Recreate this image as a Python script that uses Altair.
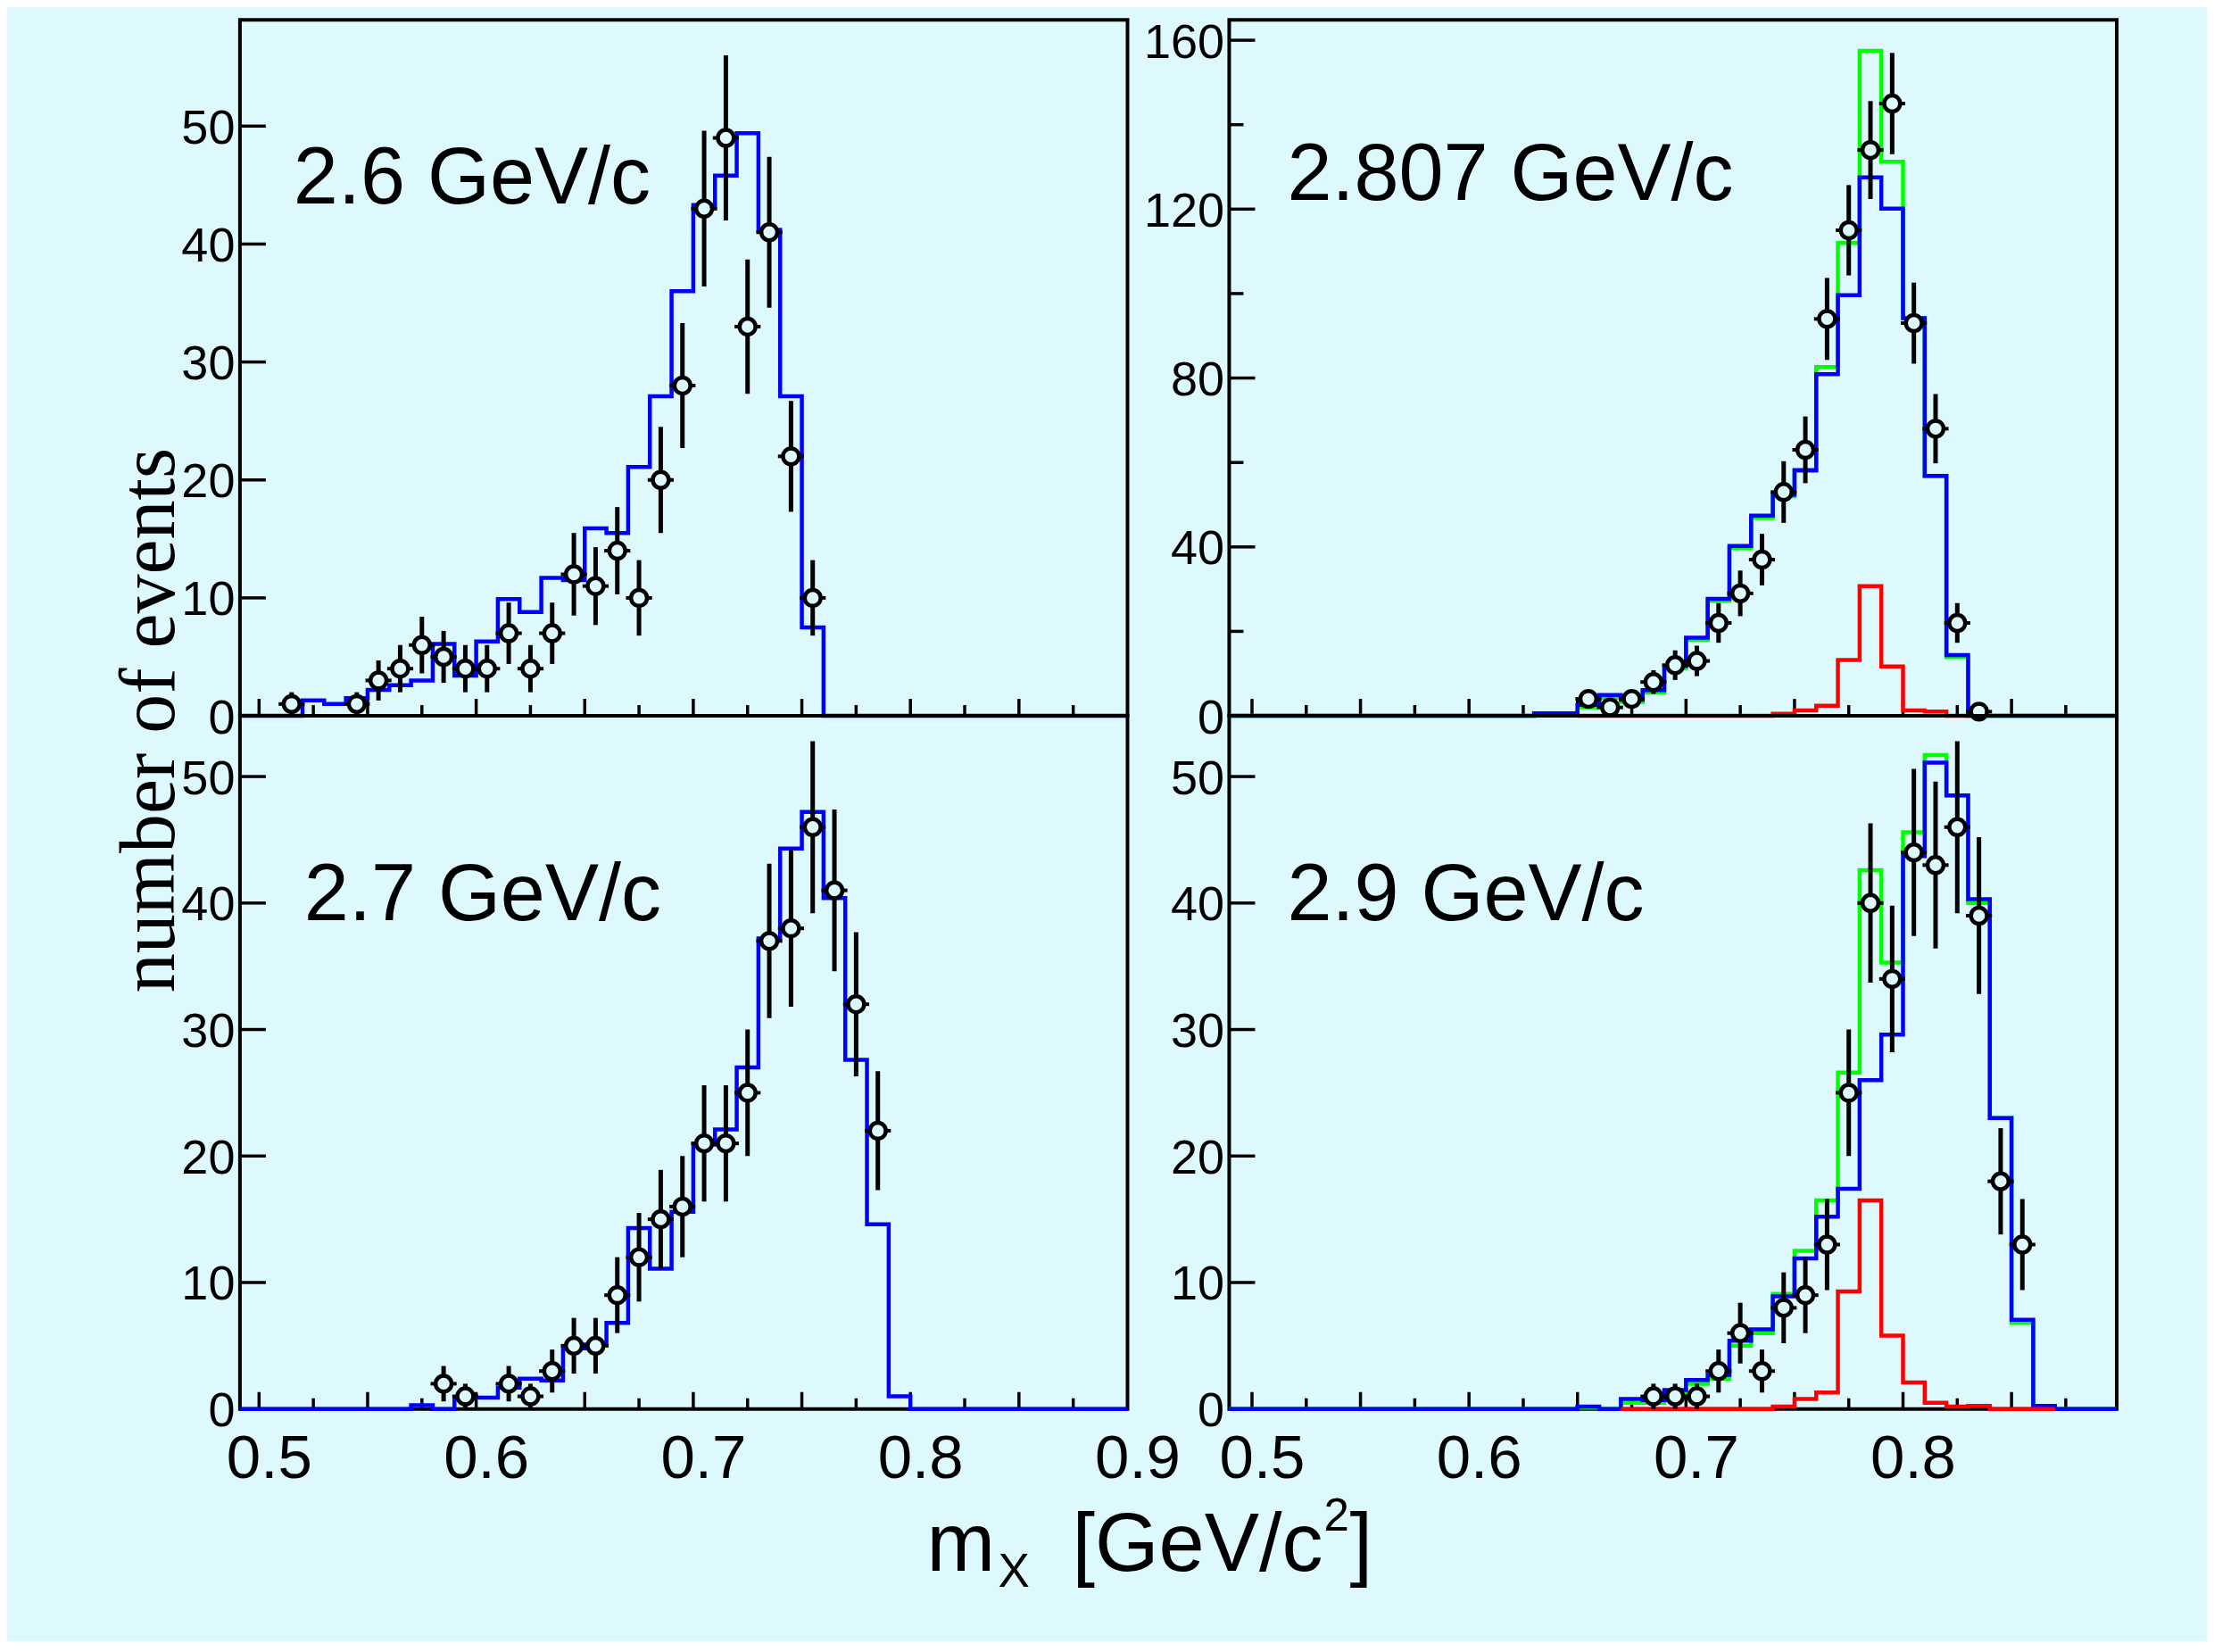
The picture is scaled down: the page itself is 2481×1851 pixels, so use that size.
import altair as alt
import pandas as pd

BG = "#ddf9fd"
SANS = "Liberation Sans"
SERIF = "Liberation Serif"
BIN = 0.01

# ---------------- data ----------------
# 2.6 GeV/c (top left)
TL_X = [0.515, 0.545, 0.555, 0.565, 0.575, 0.585, 0.595, 0.605, 0.615, 0.625, 0.635, 0.645,
        0.655, 0.665, 0.675, 0.685, 0.695, 0.705, 0.715, 0.725, 0.735, 0.745, 0.755]
TL_N = [1, 1, 3, 4, 6, 5, 4, 4, 7, 4, 7, 12, 11, 14, 10, 20, 28, 43, 49, 33, 41, 22, 10]
TL_ERR = [1.0, 1.0, 1.7, 2.0, 2.4, 2.2, 2.0, 2.0, 2.6, 2.0, 2.6, 3.5, 3.3, 3.7, 3.2, 4.5, 5.3,
          6.6, 7.0, 5.7, 6.4, 4.7, 3.2]
TL_BLUE_START = 0.52
TL_BLUE = [1.3, 1.0, 1.5, 2.2, 2.6, 3.0, 6.1, 3.4, 6.3, 9.9, 8.8, 11.7, 11.5, 15.9, 15.5, 21.1,
           27.1, 36.0, 43.3, 45.8, 49.4, 41.2, 27.1, 7.5]

# 2.7 GeV/c (bottom left)
BL_X = [0.585, 0.595, 0.615, 0.625, 0.635, 0.645, 0.655, 0.665, 0.675, 0.685, 0.695, 0.705,
        0.715, 0.725, 0.735, 0.745, 0.755, 0.765, 0.775, 0.785]
BL_N = [2, 1, 2, 1, 3, 5, 5, 9, 12, 15, 16, 21, 21, 25, 37, 38, 46, 41, 32, 22]
BL_ERR = [1.4, 1.0, 1.4, 1.0, 1.7, 2.2, 2.2, 3.0, 3.5, 3.9, 4.0, 4.6, 4.6, 5.0, 6.1, 6.2, 6.8,
          6.4, 5.7, 4.7]
BL_BLUE_START = 0.57
BL_BLUE = [0.3, 0.0, 0.9, 0.9, 1.7, 2.4, 2.25, 4.8, 5.1, 6.8, 14.3, 11.1, 15.6, 20.9, 22.1,
           27.0, 37.2, 44.3, 47.2, 40.4, 27.6, 14.6, 1.0]

# 2.807 GeV/c (top right)
TR_X = [0.655, 0.665, 0.675, 0.685, 0.695, 0.705, 0.715, 0.725, 0.735, 0.745, 0.755, 0.765,
        0.775, 0.785, 0.795, 0.805, 0.815, 0.825, 0.835]
TR_N = [4, 2, 4, 8, 12, 13, 22, 29, 37, 53, 63, 94, 115, 134, 145, 93, 68, 22, 1]
TR_ERR = [2.0, 1.4, 2.0, 2.8, 3.5, 3.6, 4.7, 5.4, 6.1, 7.3, 7.9, 9.7, 10.7, 11.6, 12.0, 9.6,
          8.2, 4.7, 1.0]
TR_BLUE_START = 0.63
TR_BLUE = [0.6, 0.6, 2.6, 4.9, 3.8, 6.1, 11.8, 18.5, 27.7, 40.2, 47.4, 52.4, 58.2, 80.9, 99.6,
           127.5, 120.1, 94.2, 56.8, 14.4]
TR_GREEN_START = 0.63
TR_GREEN = [0.2, 0.2, 2.0, 4.3, 3.3, 5.5, 11.3, 18.0, 27.2, 39.7, 46.9, 52.0, 58.0, 82.6, 112.0,
            157.5, 131.2, 94.2, 56.8, 13.9]
TR_RED_START = 0.65
TR_RED = [0, 0, 0, 0, 0, 0, 0, 0, 0, 0.5, 1.3, 2.4, 13.2, 30.7, 11.7, 1.3, 1.0, 0.0]

# 2.9 GeV/c (bottom right)
BR_X = [0.685, 0.695, 0.705, 0.715, 0.725, 0.735, 0.745, 0.755, 0.765, 0.775, 0.785, 0.795,
        0.805, 0.815, 0.825, 0.835, 0.845, 0.855]
BR_N = [1, 1, 1, 3, 6, 3, 8, 9, 13, 25, 40, 34, 44, 43, 46, 39, 18, 13]
BR_ERR = [1.0, 1.0, 1.0, 1.7, 2.4, 1.7, 2.8, 3.0, 3.6, 5.0, 6.3, 5.8, 6.6, 6.6, 6.8, 6.2, 4.2, 3.6]
BR_BLUE_START = 0.65
BR_BLUE = [0.2, 0.0, 0.8, 0.7, 1.5, 2.3, 2.7, 5.4, 6.3, 8.9, 11.9, 15.2, 17.4, 26.0, 29.6, 43.7,
           51.1, 48.5, 40.3, 23.0, 7.05, 0.25]
BR_GREEN_START = 0.65
BR_GREEN = [0.1, 0.0, 0.5, 0.5, 1.2, 2.0, 2.4, 5.0, 6.0, 9.1, 12.5, 16.5, 26.6, 42.6, 35.3, 45.6,
            51.7, 48.5, 40.0, 23.0, 6.8, 0.1]
BR_RED_START = 0.67
BR_RED = [0, 0, 0, 0, 0, 0, 0, 0.2, 0.8, 1.3, 9.3, 16.5, 5.8, 2.1, 0.5, 0.2, 0.25, 0.0, 0.0, 0.0]

PANEL_LABELS = ["2.6 GeV/c", "2.807 GeV/c", "2.7 GeV/c", "2.9 GeV/c"]

X_LABELS = [0.5, 0.6, 0.7, 0.8, 0.9]
X_MAJOR = [0.5, 0.55, 0.6, 0.65, 0.7, 0.75, 0.8, 0.85]
X_MINOR = [0.525, 0.575, 0.625, 0.675, 0.725, 0.775, 0.825, 0.875]
Y_SMALL = [0, 10, 20, 30, 40, 50]
Y_BIG_LABELS = [0, 40, 80, 120, 160]
Y_BIG_MINOR = [20, 60, 100, 140]

LEFT_XDOM = [0.4912, 0.9]
RIGHT_XDOM = [0.4895, 0.8985]

W = 995
H_TOP = 780
H_BOT = 777


def step_frame(start, vals, xdom, full):
    xs, ys = [], []
    if full:
        xs.append(xdom[0])
        ys.append(0.0)
    for i, v in enumerate(vals):
        xs.append(round(start + BIN * i, 4))
        ys.append(v)
    xs.append(round(start + BIN * len(vals), 4))
    ys.append(0.0)
    if full:
        xs.append(xdom[1])
        ys.append(0.0)
    return pd.DataFrame({"x": xs, "y": ys, "i": list(range(len(xs)))})


def one_row():
    return pd.DataFrame({"t": [""]})


def panel(px, pn, perr, lines, xdom, ydom, ylabels, ymajor, yminor, label, lx, ly,
          height, bottom, extra=()):
    xscale = alt.Scale(domain=xdom, nice=False, zero=False)
    yscale = alt.Scale(domain=ydom, nice=False, zero=False)
    if bottom:
        xaxis = alt.Axis(values=X_LABELS, format=".1f", labelFontSize=69, labelFont=SANS,
                         labelColor="black", labelPadding=22, labelOffset=11,
                         labelFlush=False, labelOverlap=False, ticks=False, tickSize=0,
                         domain=False, grid=False, title=None)
    else:
        xaxis = None
    yaxis = alt.Axis(values=ylabels, format="d", labelFontSize=54, labelFont=SANS,
                     labelColor="black", labelPadding=6, labelOffset=3, labelFlush=False,
                     labelOverlap=False, ticks=False, tickSize=0, domain=False, grid=False,
                     title=None)

    def X(f):
        return alt.X(f, scale=xscale, axis=xaxis)

    def Y(f):
        return alt.Y(f, scale=yscale, axis=yaxis)

    layers = []
    # inward tick marks
    layers.append(alt.Chart(pd.DataFrame({"v": ymajor})).mark_rule(color="black", strokeWidth=3.5)
                  .encode(y=Y("v:Q"), x=alt.value(0), x2=alt.value(29)))
    if yminor:
        layers.append(alt.Chart(pd.DataFrame({"v": yminor})).mark_rule(color="black", strokeWidth=3.5)
                      .encode(y=Y("v:Q"), x=alt.value(0), x2=alt.value(16)))
    layers.append(alt.Chart(pd.DataFrame({"v": X_MAJOR})).mark_rule(color="black", strokeWidth=3.5)
                  .encode(x=X("v:Q"), y=alt.value(height), y2=alt.value(height - 19)))
    layers.append(alt.Chart(pd.DataFrame({"v": X_MINOR})).mark_rule(color="black", strokeWidth=3.5)
                  .encode(x=X("v:Q"), y=alt.value(height), y2=alt.value(height - 12)))

    # histograms
    for df, color in lines:
        layers.append(alt.Chart(df).mark_line(interpolate="step-after", color=color, strokeWidth=4.5)
                      .encode(x=X("x:Q"), y=Y("y:Q"), order="i:Q"))

    # data points with error bars
    pts = pd.DataFrame({
        "x": px, "n": pn,
        "lo": [n - e for n, e in zip(pn, perr)],
        "hi": [n + e for n, e in zip(pn, perr)],
        "xl": [x - 0.006 for x in px],
        "xh": [x + 0.006 for x in px],
    })
    layers.append(alt.Chart(pts).mark_rule(color="black", strokeWidth=5)
                  .encode(x=X("x:Q"), y=Y("lo:Q"), y2="hi:Q"))
    layers.append(alt.Chart(pts).mark_rule(color="black", strokeWidth=4)
                  .encode(x=X("xl:Q"), x2="xh:Q", y=Y("n:Q")))
    layers.append(alt.Chart(pts).mark_point(shape="circle", filled=True, fill=BG, stroke="black",
                                            strokeWidth=4.5, size=320, opacity=1)
                  .encode(x=X("x:Q"), y=Y("n:Q")))

    # momentum label
    layers.append(alt.Chart(pd.DataFrame({"t": [label]}))
                  .mark_text(align="left", baseline="alphabetic", fontSize=90, font=SANS,
                             color="black")
                  .encode(text="t:N", x=alt.value(lx), y=alt.value(ly)))
    layers.extend(extra)
    return alt.layer(*layers).properties(width=W, height=height)


def text_piece(s, x, y, size, font=SANS, angle=0, align="left"):
    return (alt.Chart(pd.DataFrame({"t": [s]}))
            .mark_text(align=align, baseline="alphabetic", fontSize=size, font=font,
                       color="black", angle=angle)
            .encode(text="t:N", x=alt.value(x), y=alt.value(y)))


# invisible items fixing the outer bounds of the figure
corner_tl = (alt.Chart(one_row()).mark_rule(opacity=0, strokeWidth=1)
             .encode(x=alt.value(-259), x2=alt.value(-258), y=alt.value(-12)))
corner_br = (alt.Chart(one_row()).mark_rule(opacity=0, strokeWidth=1)
             .encode(x=alt.value(1093), x2=alt.value(1094), y=alt.value(1035)))

y_title = text_piece("number of events", -74, 785, 88, font=SERIF, angle=270, align="center")

x_title = [
    text_piece("m", 770, 958, 92),
    text_piece("X", 850, 976, 53),
    text_piece("[GeV/c", 933, 958, 92),
    text_piece("2", 1215, 913, 51),
    text_piece("]", 1244, 958, 92),
]

tl = panel(TL_X, TL_N, TL_ERR,
           [(step_frame(TL_BLUE_START, TL_BLUE, LEFT_XDOM, True), "#0000ff")],
           LEFT_XDOM, [0, 59.0], Y_SMALL, Y_SMALL, [], PANEL_LABELS[0], 60, 206,
           H_TOP, False, extra=[y_title, corner_tl])

tr = panel(TR_X, TR_N, TR_ERR,
           [(step_frame(TR_GREEN_START, TR_GREEN, RIGHT_XDOM, True), "#00ff00"),
            (step_frame(TR_BLUE_START, TR_BLUE, RIGHT_XDOM, True), "#0000ff"),
            (step_frame(TR_RED_START, TR_RED, RIGHT_XDOM, False), "#ff0000")],
           RIGHT_XDOM, [0, 164.8], Y_BIG_LABELS, Y_BIG_LABELS, Y_BIG_MINOR, PANEL_LABELS[1],
           65, 202, H_TOP, False)

bl = panel(BL_X, BL_N, BL_ERR,
           [(step_frame(BL_BLUE_START, BL_BLUE, LEFT_XDOM, True), "#0000ff")],
           LEFT_XDOM, [0, 54.8], Y_SMALL, Y_SMALL, [], PANEL_LABELS[2], 72, 229,
           H_BOT, True, extra=x_title)

br = panel(BR_X, BR_N, BR_ERR,
           [(step_frame(BR_GREEN_START, BR_GREEN, RIGHT_XDOM, True), "#00ff00"),
            (step_frame(BR_BLUE_START, BR_BLUE, RIGHT_XDOM, True), "#0000ff"),
            (step_frame(BR_RED_START, BR_RED, RIGHT_XDOM, False), "#ff0000")],
           RIGHT_XDOM, [0, 54.8], Y_SMALL, Y_SMALL, [], PANEL_LABELS[3], 65, 229,
           H_BOT, True, extra=[corner_br])

chart = (alt.concat(tl, tr, bl, br, columns=2, spacing={"row": 0, "column": 114},
                    bounds="flush")
         .properties(background=BG, padding=0)
         .configure_view(stroke="black", strokeWidth=4))

chart.save("out.html", embed_options={"renderer": "svg", "actions": False})
